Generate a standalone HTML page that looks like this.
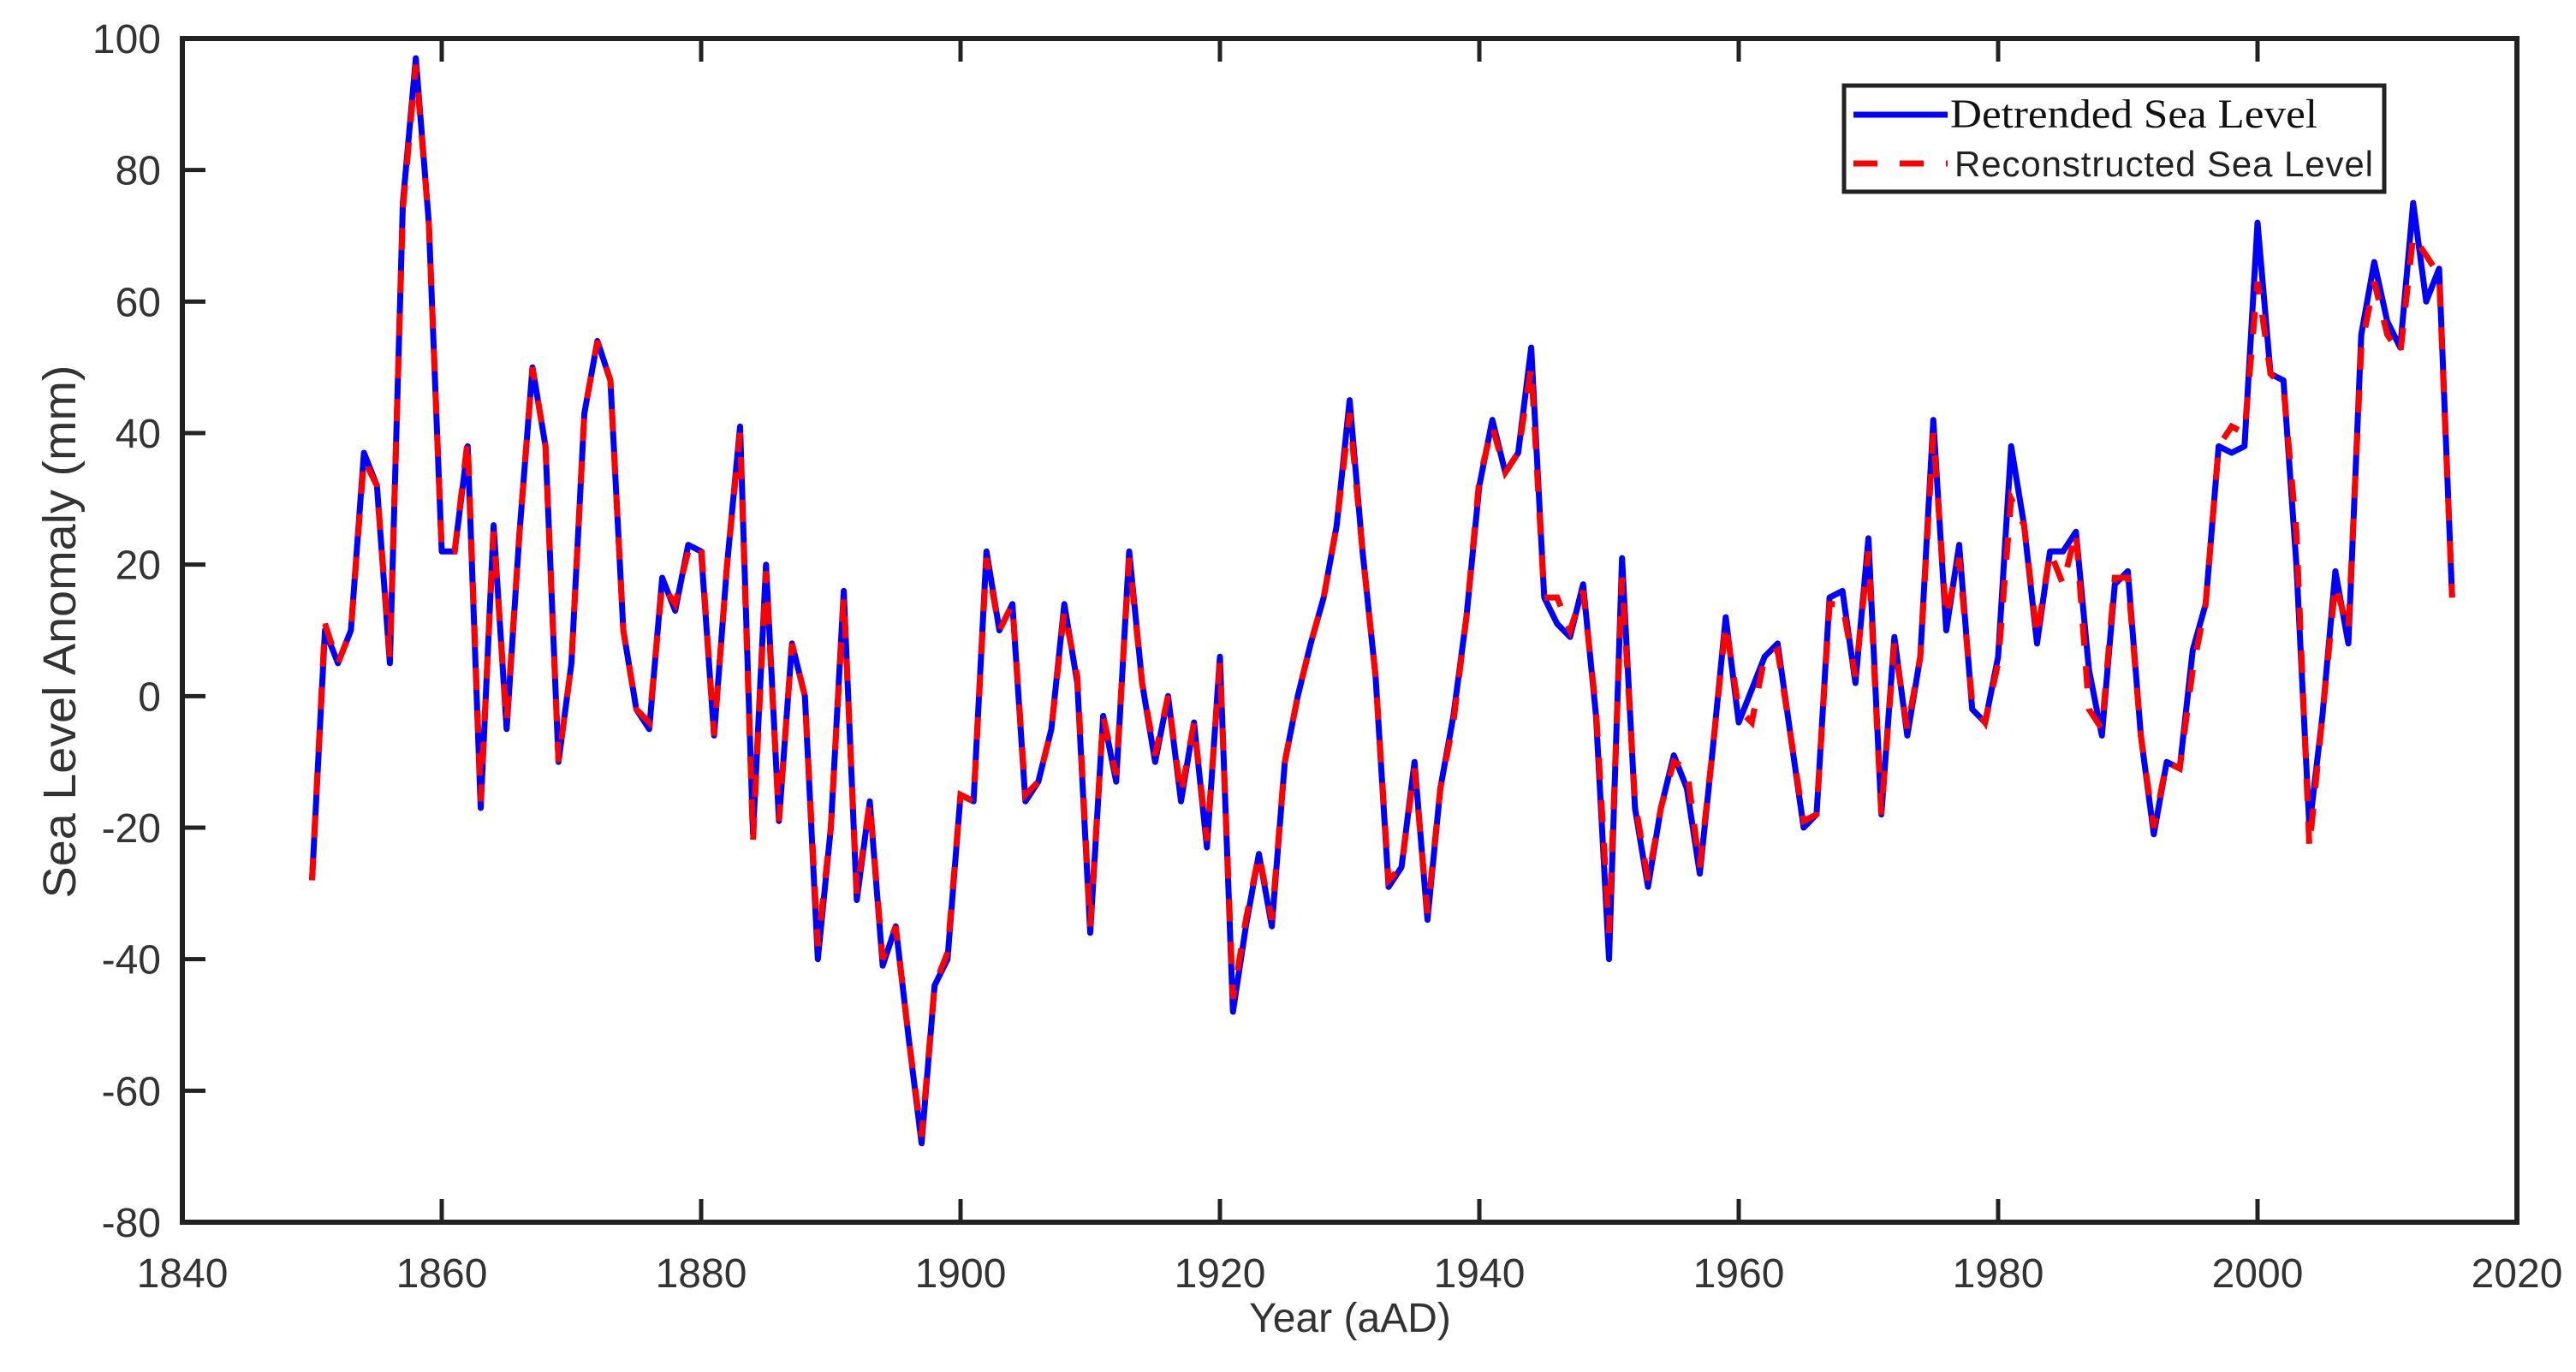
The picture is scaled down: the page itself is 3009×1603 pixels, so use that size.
<!DOCTYPE html>
<html><head><meta charset="utf-8"><style>
body{margin:0;background:#fff}
svg{display:block}
</style></head><body>
<svg width="3009" height="1603" viewBox="0 0 3009 1603" xmlns="http://www.w3.org/2000/svg">
<g id="axes"></g>
<g id="series"></g>
<text x="88" y="738" transform="rotate(-90 88 738)" text-anchor="middle" font-family="Liberation Sans, sans-serif" font-size="54" fill="#333" textLength="623" lengthAdjust="spacingAndGlyphs">Sea Level Anomaly (mm)</text>
<text x="1577" y="1556" text-anchor="middle" font-family="Liberation Sans, sans-serif" font-size="48" fill="#333">Year (aAD)</text>
<g>
<rect x="2154" y="100" width="631" height="124" fill="#fff" stroke="#222" stroke-width="5"/>
<line x1="2165" y1="134" x2="2275" y2="134" stroke="#0000ff" stroke-width="7"/>
<text x="2278" y="149" font-family="Liberation Serif, serif" font-size="48" fill="#111" textLength="429" lengthAdjust="spacingAndGlyphs">Detrended Sea Level</text>
<line x1="2165" y1="191" x2="2275" y2="191" stroke="#ff0000" stroke-width="7" stroke-dasharray="28,26"/>
<text x="2283" y="206" font-family="Liberation Sans, sans-serif" font-size="42" fill="#222" textLength="489">Reconstructed Sea Level</text>
</g>
</svg>
<script>
const years=[];for(let y=1850;y<=2015;y++)years.push(y);
const detrended=[-28,10,5,10,37,32,5,75,97,72,22,22,38,-17,26,-5,25,50,38,-10,5,43,54,48,10,-2,-5,18,13,23,22,-6,20,41,-21,20,-19,8,0,-40,-20,16,-31,-16,-41,-35,-52,-68,-44,-40,-15,-16,22,10,14,-16,-13,-5,14,2,-36,-3,-13,22,2,-10,0,-16,-4,-23,6,-48,-35,-24,-35,-10,0,8,15,26,45,22,3,-29,-26,-10,-34,-14,-3,12,32,42,34,37,53,15,11,9,17,-3,-40,21,-17,-29,-17,-9,-14,-27,-8,12,-4,1,6,8,-6,-20,-18,15,16,2,24,-18,9,-6,6,42,10,23,-2,-4,6,38,26,8,22,22,25,4,-6,17,19,-6,-21,-10,-11,7,14,38,37,38,72,49,48,20,-20,-3,19,8,55,66,57,53,75,60,65,15];
const reconstructed=[-28,11,5,10,36,32,6,74,96,72,22,22,39,-16,25,-4,25,50,38,-10,5,43,54,48,10,-2,-4,17,14,22,23,-6,20,40,-22,19,-19,8,0,-38,-20,15,-30,-16,-40,-35,-52,-67,-44,-39,-15,-16,21,10,14,-15,-13,-5,13,3,-35,-3,-12,21,2,-9,0,-15,-4,-22,5,-46,-34,-24,-34,-10,0,8,15,26,43,22,3,-28,-26,-11,-33,-14,-4,12,33,41,34,37,50,15,15,10,16,-2,-36,18,-16,-28,-17,-10,-11,-26,-8,11,-2,-4,6,7,-6,-19,-18,14,14,3,22,-18,8,-5,6,40,12,21,-1,-4,5,30,26,9,22,17,25,-2,-5,18,18,-6,-20,-10,-11,4,14,38,41,40,63,49,47,25,-23,-3,17,10,53,63,55,52,70,67,64,15];
const yTicks=[100,80,60,40,20,0,-20,-40,-60,-80];
const xTicks=[1840,1860,1880,1900,1920,1940,1960,1980,2000,2020];
const L=213,R=2940,T=45,B=1428;
const X=v=>L+(v-1840)/180*(R-L);
const Y=v=>T+(100-v)/180*(B-T);
const NS='http://www.w3.org/2000/svg';
function mk(tag,attrs,parent){const e=document.createElementNS(NS,tag);for(const k in attrs)e.setAttribute(k,attrs[k]);parent.appendChild(e);return e;}
const ax=document.getElementById('axes');
yTicks.forEach(v=>{
 const t=mk('text',{x:188,y:Y(v)+17,'text-anchor':'end','font-family':'Liberation Sans, sans-serif','font-size':48,fill:'#333'},ax);
 t.textContent=v;
 
 
 const a=mk('line',{x1:L,x2:L+27,y1:Y(v),y2:Y(v),stroke:'#222','stroke-width':5},ax);
 
 
});
xTicks.forEach(v=>{
 const t=mk('text',{x:X(v),y:1504,'text-anchor':'middle','font-family':'Liberation Sans, sans-serif','font-size':48,fill:'#333'},ax);
 t.textContent=v;
 
 
 const a=mk('line',{x1:X(v),x2:X(v),y1:B,y2:B-27,stroke:'#222','stroke-width':5},ax);
 
 
 const b=mk('line',{x1:X(v),x2:X(v),y1:T,y2:T+27,stroke:'#222','stroke-width':5},ax);
 
 
});
const fr=mk('rect',{x:L,y:T,width:R-L,height:B-T,fill:'none',stroke:'#222','stroke-width':6},ax);


const sg=document.getElementById('series');
const pts=a=>a.map((v,i)=>X(years[i]).toFixed(1)+','+Y(v).toFixed(1)).join(' ');
const l1=mk('polyline',{points:pts(detrended),fill:'none',stroke:'#0000ff','stroke-width':7,'stroke-linejoin':'round'},sg);


const l2=mk('polyline',{points:pts(reconstructed),fill:'none',stroke:'#ff0000','stroke-width':7,'stroke-dasharray':'26,24'},sg);


</script>
</body></html>
